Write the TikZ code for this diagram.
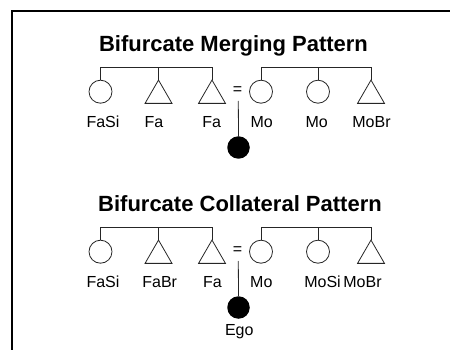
\documentclass[tikz,border=0pt]{standalone}
\usepackage{fontspec}
\setmainfont{Liberation Sans}
\usetikzlibrary{shapes.geometric}
\begin{document}
\begin{tikzpicture}[x=1pt,y=-1pt,
  kin/.style={line width=0.8pt, draw=black!85},
  fem/.style={circle, kin, minimum size=23pt, inner sep=0pt, outer sep=0pt},
  mal/.style={regular polygon, regular polygon sides=3, kin, minimum size=31.1pt, inner sep=0pt, outer sep=0pt},
  egoshape/.style={circle, fill=black, minimum size=22.5pt, inner sep=0pt, outer sep=0pt},
  lbl/.style={anchor=base, inner sep=0pt, font=\fontsize{16}{19}\selectfont},
  ttl/.style={anchor=base, inner sep=0pt, font=\fontsize{22}{26}\selectfont\bfseries},
  tie/.style={line width=0.8pt, draw=black!85}]
\useasboundingbox (0,0) rectangle (450,350);
% frame (top and left edges)
\draw[line width=2pt] (12.3,350) -- (12.3,11) -- (450,11);

% ---------- merging pattern ----------
\node[ttl] (titleA) at (233.5,51.7) {Bifurcate Merging Pattern};
\node[fem] (fasiA) at (100.5,91.7) {};
\node[mal] (faA)   at (158.5,95.6) {};
\node[mal] (fbA)   at (212,95.6) {};
\node[fem] (moA)   at (261,91.7) {};
\node[fem] (mbA)   at (318,91.7) {};
\node[mal] (mobrA) at (371,95.6) {};
\node[lbl] (eqA) at (237.5,94.6) {=};
\node[egoshape] (egoA) at (238.5,147.5) {};

\node[lbl] (lfasiA) at (103,127.7) {FaSi};
\node[lbl] (lfaA)   at (154,127.7) {Fa};
\node[lbl] (lfbA)   at (211.7,127.7) {Fa};
\node[lbl] (lmoA)   at (261.7,127.7) {Mo};
\node[lbl] (lmbA)   at (316.7,127.7) {Mo};
\node[lbl] (lmobrA) at (371.5,127.7) {MoBr};

\coordinate (barA) at (0,67.3);
\draw[tie] (fasiA.north) -- (fasiA.north |- barA) -- (fbA.north |- barA) -- (fbA.north);
\draw[tie] (faA.north) -- (faA.north |- barA);
\draw[tie] (moA.north) -- (moA.north |- barA) -- (mobrA.north |- barA) -- (mobrA.north);
\draw[tie] (mbA.north) -- (mbA.north |- barA);
\coordinate (tieA) at (238.3,101);
\draw[tie] (tieA) -- (egoA.north);

% ---------- collateral pattern ----------
\node[ttl] (titleB) at (240,211.5) {Bifurcate Collateral Pattern};
\node[fem] (fasiB) at (100.5,251.7) {};
\node[mal] (fabrB) at (158.5,255.6) {};
\node[mal] (faB)   at (212,255.6) {};
\node[fem] (moB)   at (261,251.7) {};
\node[fem] (mosiB) at (318,251.7) {};
\node[mal] (mobrB) at (371,255.6) {};
\node[lbl] (eqB) at (237.5,254.6) {=};
\node[egoshape] (egoB) at (238.5,307.5) {};

\node[lbl] (lfasiB) at (103,287.7) {FaSi};
\node[lbl] (lfabrB) at (159.7,287.7) {FaBr};
\node[lbl] (lfaB)   at (212.5,287.7) {Fa};
\node[lbl] (lmoB)   at (261.3,287.7) {Mo};
\node[lbl] (lmosiB) at (322.5,287.7) {MoSi};
\node[lbl] (lmobrB) at (362.5,287.7) {MoBr};
\node[lbl] (legoB)  at (239.3,335) {Ego};

\coordinate (barB) at (0,227.3);
\draw[tie] (fasiB.north) -- (fasiB.north |- barB) -- (faB.north |- barB) -- (faB.north);
\draw[tie] (fabrB.north) -- (fabrB.north |- barB);
\draw[tie] (moB.north) -- (moB.north |- barB) -- (mobrB.north |- barB) -- (mobrB.north);
\draw[tie] (mosiB.north) -- (mosiB.north |- barB);
\coordinate (tieB) at (238.3,261);
\draw[tie] (tieB) -- (egoB.north);
\end{tikzpicture}
\end{document}
